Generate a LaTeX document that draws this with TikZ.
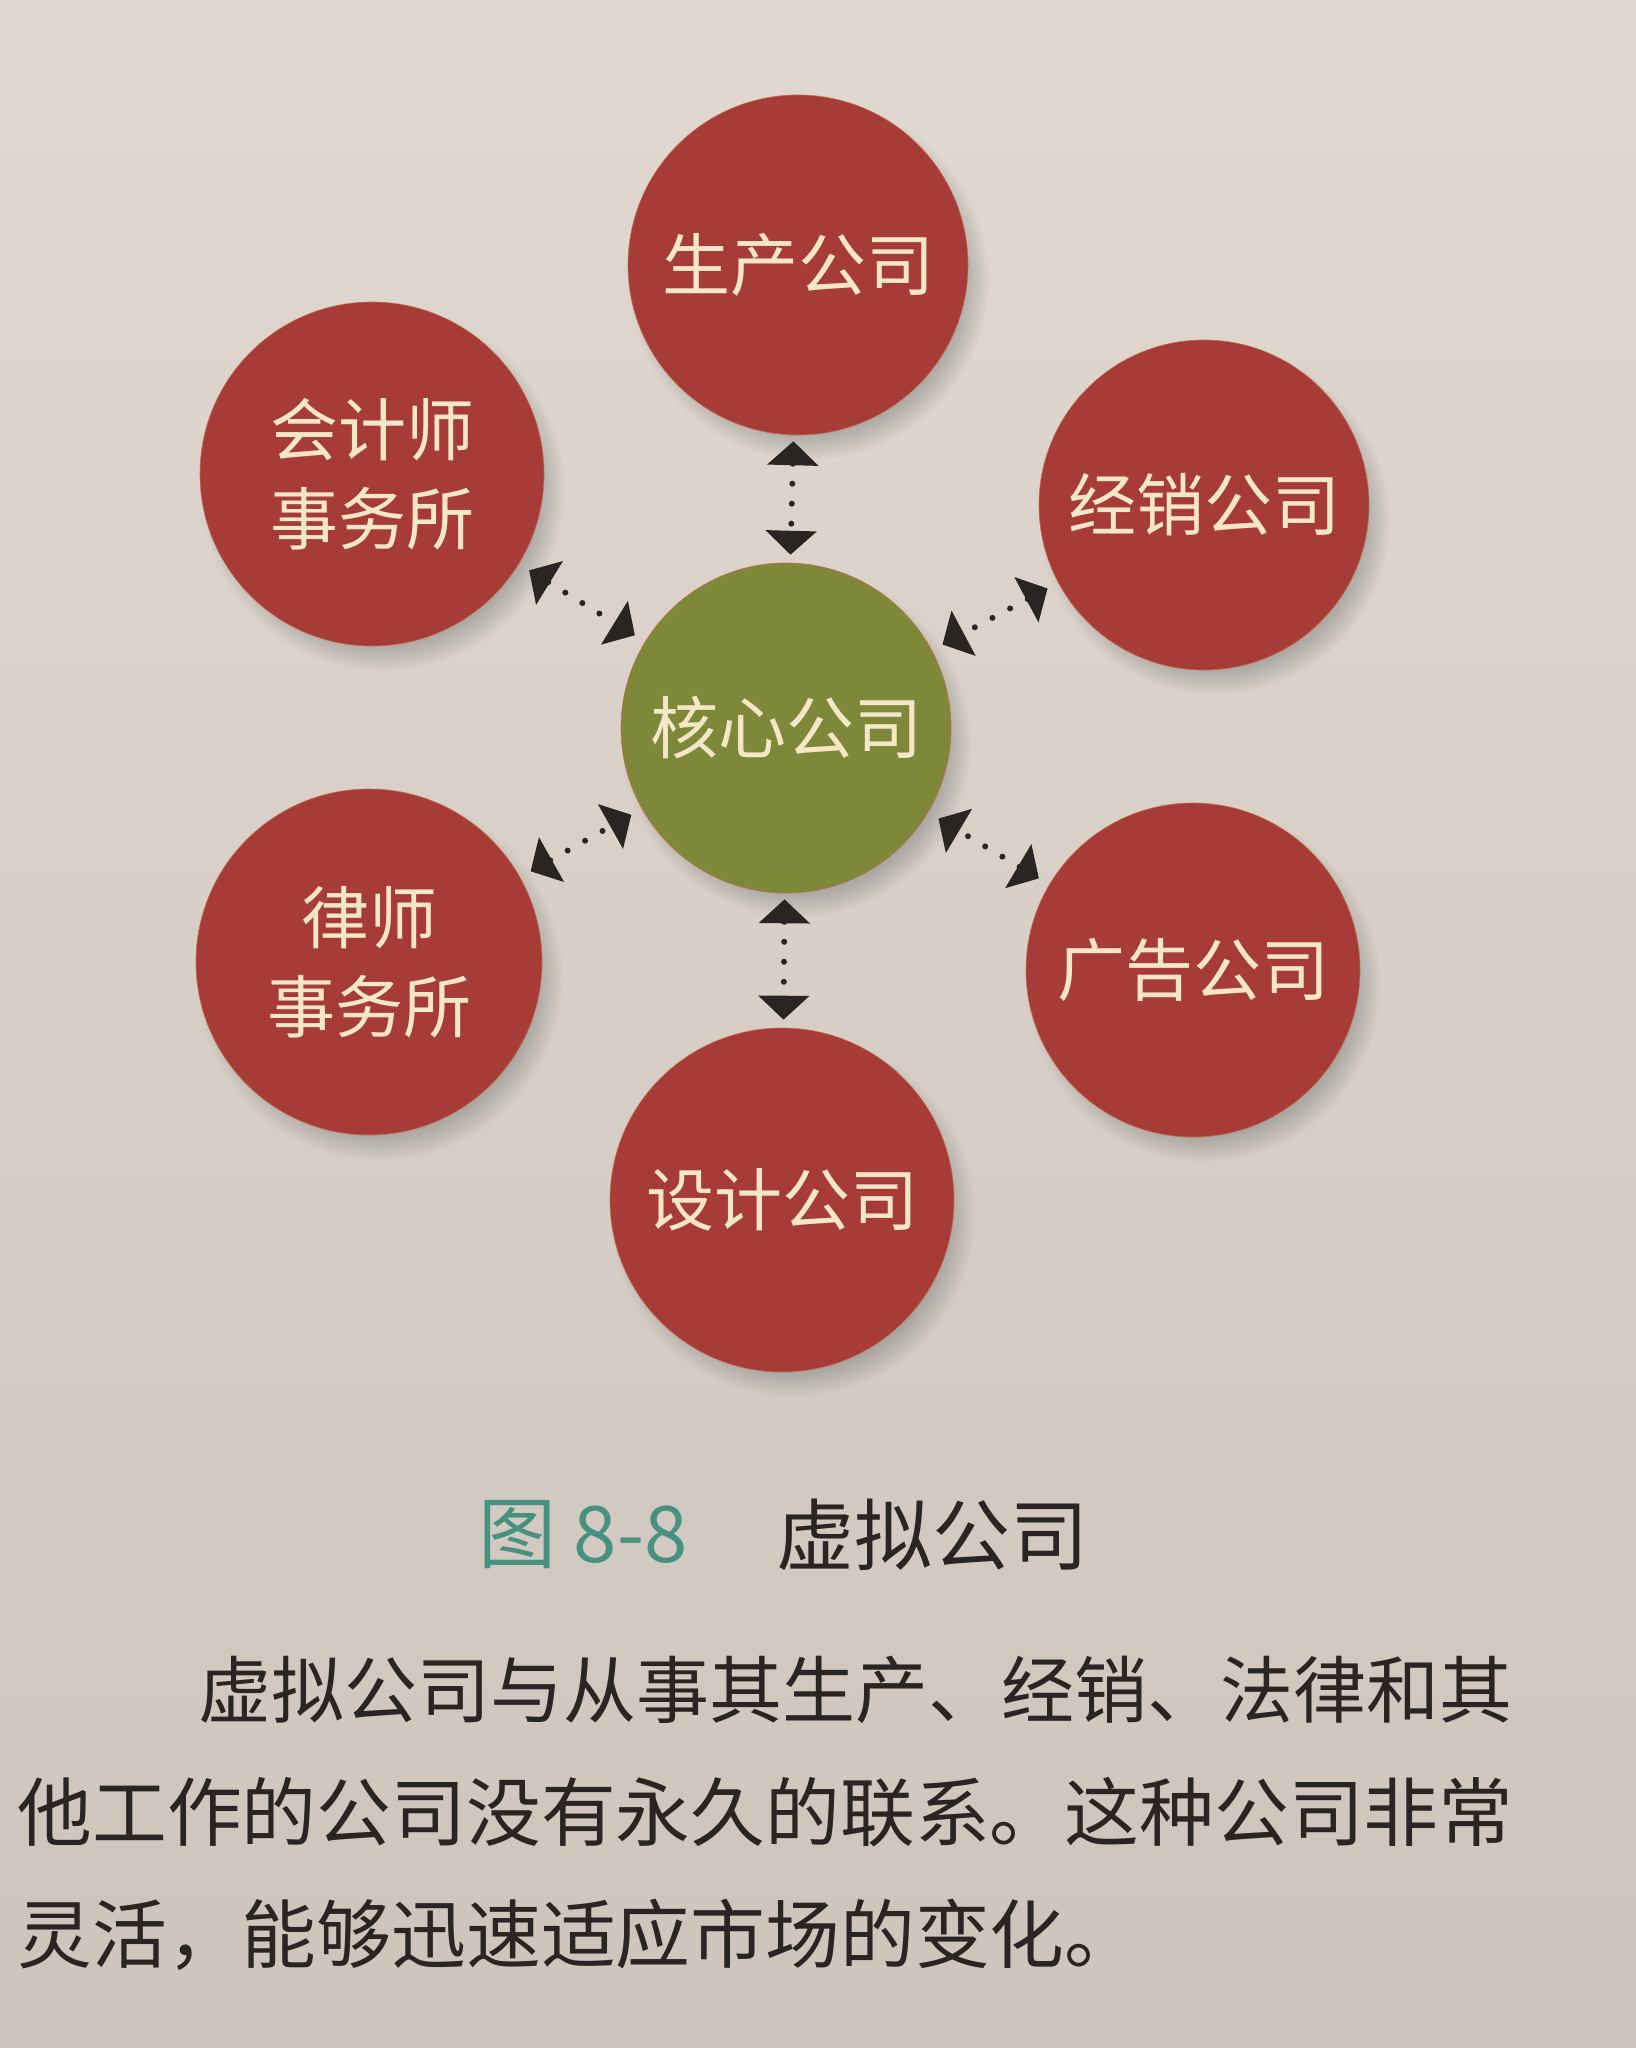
\documentclass[tikz,border=0pt]{standalone}
\usepackage{fontspec}
\newfontfamily\cjk{Noto Sans CJK SC}
\usetikzlibrary{arrows.meta,shadows}
\definecolor{paperA}{RGB}{225,217,209}
\definecolor{paperB}{RGB}{205,196,188}
\definecolor{cred}{RGB}{166,59,55}
\definecolor{cgreen}{RGB}{126,136,57}
\definecolor{ctext}{RGB}{243,231,200}
\definecolor{crim}{RGB}{190,110,70}
\definecolor{cteal}{RGB}{70,145,128}
\definecolor{cink}{RGB}{42,36,34}
\begin{document}
\begin{tikzpicture}[x=0.5pt,y=-0.5pt,
  firm/.style={circle, fill=cred, draw=crim, line width=0.3pt, inner sep=0pt,
    text=ctext, align=center, font=\cjk\fontsize{34pt}{44.5pt}\selectfont,
    circular drop shadow={shadow xshift=5pt, shadow yshift=-7pt, shadow scale=1.06, opacity=0.5}},
  core/.style={firm, fill=cgreen},
  link/.style={cink, line width=3pt, line cap=round, dash pattern=on 0pt off 10pt,
    {Triangle[width=25pt,length=12pt]}-{Triangle[width=25pt,length=12pt]}},
  diag/.style={link, shorten <=6pt, shorten >=6pt},
  vert/.style={link, shorten <=3pt, shorten >=4pt},
  body/.style={anchor=west, inner sep=0pt, text=cink}
]
\useasboundingbox (0,0) rectangle (1636,2048);
\fill[top color=paperA, bottom color=paperB] (0,0) rectangle (1636,2048);

\node[core, minimum size=165pt] (core) at (786,728) {核心公司};
\node[firm, minimum size=170pt] (prod) at (798,265) {生产公司};
\node[firm, minimum size=172pt] (acct) at (372,474) {会计师\\事务所};
\node[firm, minimum size=165pt] (dist) at (1204,505) {经销公司};
\node[firm, minimum size=173pt] (law) at (369,962) {律师\\事务所};
\node[firm, minimum size=167pt] (ad) at (1193,970) {广告公司};
\node[firm, minimum size=172pt] (des) at (782,1200) {设计公司};

\draw[vert] (prod) -- (core);
\draw[vert] (core) -- (des);
\draw[diag] (acct) -- (core);
\draw[diag] (dist) -- (core);
\draw[diag] (law) -- (core);
\draw[diag] (ad) -- (core);

\node[body, text=cteal, font=\cjk\fontsize{39pt}{39pt}\selectfont] (fig) at (478,1535) {图 8-8};
\node[body, font=\cjk\fontsize{39pt}{39pt}\selectfont] (title) at (776,1535) {虚拟公司};

\node[body, font=\cjk\fontsize{36.5pt}{36.5pt}\selectfont] (l1) at (198,1690) {虚拟公司与从事其生产、经销、法律和其};
\node[body, font=\cjk\fontsize{37.4pt}{37.4pt}\selectfont] (l2) at (17,1812) {他工作的公司没有永久的联系。这种公司非常};
\node[body, font=\cjk\fontsize{37.4pt}{37.4pt}\selectfont] (l3) at (17,1935) {灵活，能够迅速适应市场的变化。};
\end{tikzpicture}
\end{document}
